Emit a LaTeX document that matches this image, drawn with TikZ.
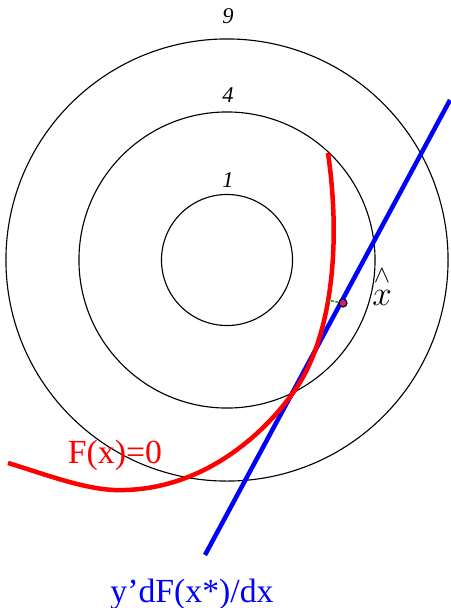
\documentclass[tikz,border=0pt]{standalone}
\usepackage{fontspec}
\setmainfont{Liberation Serif}
\usepackage{amsmath}
\usepackage{tikz}

\begin{document}
\begin{tikzpicture}[x=0.025cm, y=-0.025cm,
	ring/.style={draw, circle, line width=0.8pt, inner sep=0pt, outer sep=0pt},
	lvl/.style={anchor=base, font=\fontsize{16}{18}\selectfont\itshape},
	big/.style={anchor=base, font=\fontsize{24}{28}\selectfont}]
	\useasboundingbox (0,0) rectangle (451,608);
	\coordinate (ctr) at (227,260);
	% level circles with their values
	\foreach \r/\lab/\ly in {65.5/1/187, 148/4/102, 221/9/23} {
		\node[ring, minimum size={0.05*\r cm}] (ring\lab) at (ctr) {};
		\node[lvl] (lab\lab) at (228,\ly) {\lab};
	}
	% tangent line
	\coordinate (tlo) at (205,555);
	\coordinate (thi) at (450,100);
	\draw[blue, line width=3.2pt] (tlo) -- (thi);
	% constraint curve
	\draw[red, line width=3.2pt] (8,463) .. controls (45,474) and (90,492) .. (125,490)
		.. controls (200,488) and (260,440) .. (295,390)
		.. controls (330,340) and (342,250) .. (328,153);
	\coordinate (foot) at (327,300);
	\node[circle, draw, line width=0.8pt, fill=magenta!80!violet, minimum size=0.2cm, inner sep=0pt] (xs) at (343,303) {};
	\draw[green!60!black, line width=1pt, dash pattern=on 2pt off 1pt] (foot) -- (xs);
	\node[big] (xhat) at (382,305) {$\overset{\wedge}{x}$};
	\node[big, red] (flab) at (115,463) {F(x)=0};
	\node[big, blue] (glab) at (192,602) {y’dF(x*)/dx};
\end{tikzpicture}
\end{document}
